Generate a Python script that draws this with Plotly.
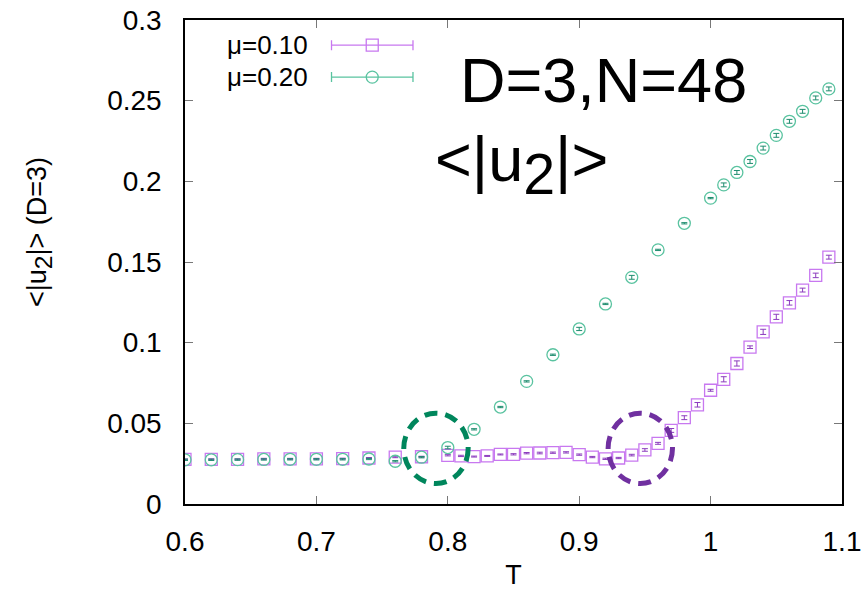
import plotly.graph_objects as go

# ---------------- data ----------------
T_mu010 = [0.60, 0.62, 0.64, 0.66, 0.68, 0.70, 0.72, 0.74, 0.76, 0.78, 0.80,
           0.81, 0.82, 0.83, 0.84, 0.85, 0.86, 0.87, 0.88, 0.89, 0.90,
           0.91, 0.92, 0.93, 0.94, 0.95, 0.96, 0.97, 0.98, 0.99, 1.00,
           1.01, 1.02, 1.03, 1.04, 1.05, 1.06, 1.07, 1.08, 1.09]
u2_mu010 = [0.0276, 0.0277, 0.0277, 0.0280, 0.0280, 0.0280, 0.0281, 0.0285, 0.0290, 0.0293, 0.0302,
            0.0298, 0.0294, 0.0298, 0.0307, 0.0308, 0.0315, 0.0316, 0.0318, 0.0320, 0.0306,
            0.0291, 0.0280, 0.0285, 0.0303, 0.0335, 0.0376, 0.0456, 0.0535, 0.0615, 0.0705,
            0.0773, 0.0871, 0.0972, 0.1067, 0.1160, 0.1247, 0.1326, 0.1417, 0.1530]
err_mu010 = [0.0003, 0.0003, 0.0003, 0.0003, 0.0003, 0.0003, 0.0003, 0.0003, 0.0003, 0.0003, 0.0004,
             0.0004, 0.0003, 0.0003, 0.0003, 0.0004, 0.0004, 0.0005, 0.0004, 0.0004, 0.0004,
             0.0004, 0.0004, 0.0004, 0.0005, 0.0008, 0.0006, 0.0012, 0.0012, 0.0014, 0.0006,
             0.0016, 0.0016, 0.0008, 0.0016, 0.0016, 0.0014, 0.0012, 0.0014, 0.0012]

T_mu020 = [0.60, 0.62, 0.64, 0.66, 0.68, 0.70, 0.72, 0.74, 0.76, 0.78, 0.80,
           0.82, 0.84, 0.86, 0.88, 0.90, 0.92, 0.94, 0.96, 0.98, 1.00,
           1.01, 1.02, 1.03, 1.04, 1.05, 1.06, 1.07, 1.08, 1.09]
u2_mu020 = [0.0274, 0.0274, 0.0275, 0.0276, 0.0277, 0.0277, 0.0277, 0.0279, 0.0265, 0.0290, 0.0350,
            0.0463, 0.0601, 0.0760, 0.0925, 0.1085, 0.1240, 0.1405, 0.1575, 0.1740, 0.1896,
            0.1978, 0.2055, 0.2123, 0.2206, 0.2285, 0.2372, 0.2434, 0.2517, 0.2573]
err_mu020 = [0.0004, 0.0004, 0.0004, 0.0004, 0.0004, 0.0004, 0.0004, 0.0004, 0.0004, 0.0004, 0.0008,
             0.0004, 0.0004, 0.0004, 0.0004, 0.0010, 0.0004, 0.0012, 0.0004, 0.0004, 0.0004,
             0.0012, 0.0012, 0.0012, 0.0012, 0.0012, 0.0012, 0.0012, 0.0012, 0.0012]

x_ticks = [0.6, 0.7, 0.8, 0.9, 1.0, 1.1]
x_ticklabels = ["0.6", "0.7", "0.8", "0.9", "1", "1.1"]
y_ticks = [0, 0.05, 0.1, 0.15, 0.2, 0.25, 0.3]
y_ticklabels = ["0", "0.05", "0.1", "0.15", "0.2", "0.25", "0.3"]

series_names = ["\u03bc=0.10", "\u03bc=0.20"]

# circled transition regions (centre T, centre value)
circle_green = (0.791, 0.0345)
circle_purple = (0.9465, 0.0345)
circle_rx, circle_ry = 0.0245, 0.0218

# ---------------- style ----------------
PURPLE = "rgb(200,120,240)"
PURPLE_ERR = "rgb(140,60,190)"
GREEN = "rgb(90,195,160)"
GREEN_ERR = "rgb(30,140,110)"
FONT = "Liberation Sans, Arial, Helvetica, sans-serif"

fig = go.Figure()

fig.add_trace(go.Scatter(
    x=T_mu010, y=u2_mu010, mode="markers", name=series_names[0],
    marker=dict(symbol="square-open", size=12, color=PURPLE, line=dict(width=1.3, color=PURPLE)),
    error_y=dict(type="data", array=err_mu010, visible=True, color=PURPLE_ERR, thickness=1, width=3),
    showlegend=False,
))
fig.add_trace(go.Scatter(
    x=T_mu020, y=u2_mu020, mode="markers", name=series_names[1],
    marker=dict(symbol="circle-open", size=12, color=GREEN, line=dict(width=1.3, color=GREEN)),
    error_y=dict(type="data", array=err_mu020, visible=True, color=GREEN_ERR, thickness=1, width=3),
    showlegend=False,
))

# legend keys drawn on an overlay axis in [0,1] coordinates (gnuplot style)
key_x = 0.285
key_half = 0.062
key_y = [0.948, 0.882]
fig.add_trace(go.Scatter(
    x=[key_x], y=[key_y[0]], xaxis="x2", yaxis="y2", mode="markers", showlegend=False,
    marker=dict(symbol="square-open", size=12, color=PURPLE, line=dict(width=1.3, color=PURPLE)),
    error_x=dict(type="constant", value=key_half, color=PURPLE, thickness=1.3, width=5),
    hoverinfo="skip",
))
fig.add_trace(go.Scatter(
    x=[key_x], y=[key_y[1]], xaxis="x2", yaxis="y2", mode="markers", showlegend=False,
    marker=dict(symbol="circle-open", size=12, color=GREEN, line=dict(width=1.3, color=GREEN)),
    error_x=dict(type="constant", value=key_half, color=GREEN, thickness=1.3, width=5),
    hoverinfo="skip",
))

annotations = []
for name, yk in zip(series_names, key_y):
    annotations.append(dict(
        x=0.19, y=yk, xref="paper", yref="paper", text=name, showarrow=False,
        xanchor="right", yanchor="middle", font=dict(family=FONT, size=26, color="black"),
    ))
annotations.append(dict(
    x=0.415, y=0.876, xref="paper", yref="paper", text="D=3,N=48", showarrow=False,
    xanchor="left", yanchor="middle", font=dict(family=FONT, size=63, color="black"),
))
annotations.append(dict(
    x=0.378, y=0.70, xref="paper", yref="paper",
    text='&lt;|u<sub><span style="font-size:130%">2</span></sub>|&gt;', showarrow=False,
    xanchor="left", yanchor="middle", font=dict(family=FONT, size=63, color="black"),
))
# y-axis title (placed like gnuplot's ylabel, slightly above centre)
annotations.append(dict(
    x=-0.2207, y=0.562, xref="paper", yref="paper",
    text='&lt;|u<sub><span style="font-size:130%">2</span></sub>|&gt; (D=3)', showarrow=False,
    textangle=-90, xanchor="center", yanchor="middle",
    font=dict(family=FONT, size=27, color="black"),
))

shapes = []
for (cx, cy), col in [(circle_green, "rgb(0,134,92)"), (circle_purple, "rgb(112,48,160)")]:
    shapes.append(dict(
        type="circle", xref="x", yref="y",
        x0=cx - circle_rx, x1=cx + circle_rx, y0=cy - circle_ry, y1=cy + circle_ry,
        line=dict(color=col, width=5, dash="13px,8px"),
    ))

axis_common = dict(
    showline=True, linecolor="black", linewidth=1.5, mirror="ticks",
    ticks="inside", ticklen=8, tickwidth=1, tickcolor="rgb(120,120,120)",
    showgrid=False, zeroline=False, automargin=False,
    tickfont=dict(family=FONT, size=28, color="black"),
)

fig.update_layout(
    width=866, height=590,
    margin=dict(l=185, r=24, t=20, b=86),
    paper_bgcolor="white", plot_bgcolor="white",
    xaxis=dict(range=[0.6, 1.1], tickmode="array", tickvals=x_ticks, ticktext=x_ticklabels,
               ticklabelstandoff=12,
               title=dict(text="T", font=dict(family=FONT, size=27, color="black"), standoff=16),
               **axis_common),
    yaxis=dict(range=[0, 0.3], tickmode="array", tickvals=y_ticks, ticktext=y_ticklabels,
               ticklabelstandoff=16,
               **axis_common),
    xaxis2=dict(range=[0, 1], overlaying="x", visible=False, fixedrange=True),
    yaxis2=dict(range=[0, 1], overlaying="y", visible=False, fixedrange=True),
    annotations=annotations,
    shapes=shapes,
    showlegend=False,
)

fig.write_html("out.html")
